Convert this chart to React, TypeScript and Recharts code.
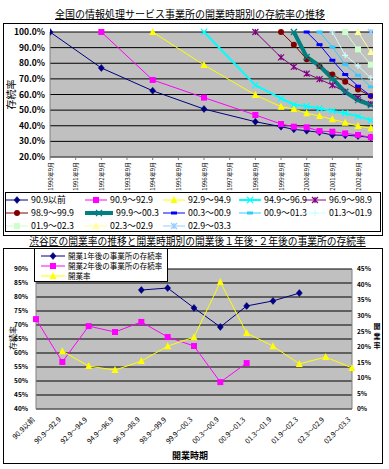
import React from 'react';
import { LineChart, ComposedChart, Line, XAxis, YAxis, CartesianGrid, Label } from 'recharts';

const FONT = '"Noto Sans CJK JP", "Noto Sans", sans-serif';

// ---------- data: top chart ----------
const periodNames = ['90.9以前', '90.9～92.9', '92.9～94.9', '94.9～96.9', '96.9～98.9', '98.9～99.9', '99.9～00.3', '00.3～00.9', '00.9～01.3', '01.3～01.9', '01.9～02.3', '02.3～02.9', '02.9～03.3'];
// survey dates, months after 1990.9
const surveyMonths = [0, 24, 48, 72, 96, 108, 114, 120, 126, 132, 138, 144, 150];
const yearTicks = [0, 12, 24, 36, 48, 60, 72, 84, 96, 108, 120, 132, 144];
const yearLabels = ['1990年9月', '1991年9月', '1992年9月', '1993年9月', '1994年9月', '1995年9月', '1996年9月', '1997年9月', '1998年9月', '1999年9月', '2000年9月', '2001年9月', '2002年9月'];
const pctTicksTop = [20, 30, 40, 50, 60, 70, 80, 90, 100];

const surv0 = [100, 77.0, 62.4, 50.7, 42.6, 39.4, 37.7, 36.8, 35.8, 34.1, 33.9, 33.4, 32.5];
const surv1 = [null, 100, 69.3, 58.0, 46.9, 41.1, 39.4, 39.0, 36.6, 36.2, 35.1, 34.1, 32.6];
const surv2 = [null, null, 100, 78.9, 59.7, 52.2, 50.7, 48.0, 46.2, 44.1, 42.0, 39.8, 38.4];
const surv3 = [null, null, null, 100, 66.0, 57.5, 53.5, 52.5, 51.0, 49.5, 48.0, 46.0, 43.5];
const surv4 = [null, null, null, null, 100, 83.8, 77.7, 73.4, 69.8, 66.0, 61.7, 57.9, 54.0];
const surv5 = [null, null, null, null, null, 100, 91.9, 82.6, 78.3, 72.8, 68.1, 63.2, 59.1];
const surv6 = [null, null, null, null, null, null, 100, 84.0, 78.3, 70.2, 61.7, 56.4, 53.2];
const surv7 = [null, null, null, null, null, null, null, 100, 91.9, 81.9, 72.8, 65.3, 59.1];
const surv8 = [null, null, null, null, null, null, null, null, 100, 90.4, 79.1, 72.3, 64.9];
const surv9 = [null, null, null, null, null, null, null, null, null, 100, 85.1, 78.3, 70.6];
const surv10 = [null, null, null, null, null, null, null, null, null, null, 100, 88.9, 79.1];
const surv11 = [null, null, null, null, null, null, null, null, null, null, null, 100, 87.2];
const surv12 = [null, null, null, null, null, null, null, null, null, null, null, null, 100];
const survSeries = [surv0, surv1, surv2, surv3, surv4, surv5, surv6, surv7, surv8, surv9, surv10, surv11, surv12];

// ---------- data: bottom chart ----------
const oneYearSurvival = [null, null, null, null, 82.5, 83.2, 76.1, 69.3, 76.8, 78.6, 81.4, null, null];
const twoYearSurvival = [72.1, 56.8, 69.6, 67.5, 71.1, 65.7, 62.5, 49.6, 56.4, null, null, null, null];
const openingRate = [null, 18.6, 13.8, 12.5, 15.4, 20.2, 23.1, 40.8, 24.4, 20.2, 14.5, 16.7, 13.2];
const leftTicks = [40, 45, 50, 55, 60, 65, 70, 75, 80, 85, 90];
const rightTicks = [0, 5, 10, 15, 20, 25, 30, 35, 40, 45];
const bottomSeriesNames = ['開業1年後の事業所の存続率', '開業2年後の事業所の存続率', '開業率'];

// ---------- styles ----------
const topStyles = [
  { color: '#000080', shape: 'diamond', width: 1 },
  { color: '#FF00FF', shape: 'square', width: 1 },
  { color: '#FFFF00', shape: 'triangle', width: 1 },
  { color: '#00FFFF', shape: 'x', width: 2 },
  { color: '#800080', shape: 'star', width: 1 },
  { color: '#800000', shape: 'circle', width: 1 },
  { color: '#008080', shape: 'x', width: 4 },
  { color: '#0000FF', shape: 'dash', width: 1 },
  { color: '#33CCFF', shape: 'dash', width: 1 },
  { color: '#CCFFFF', shape: 'plus', width: 1 },
  { color: '#CCFFCC', shape: 'square', width: 1 },
  { color: '#FFFF99', shape: 'triangle', width: 1 },
  { color: '#99CCFF', shape: 'star', width: 1 },
];
const bottomStyles = [
  { color: '#000080', shape: 'diamond', width: 1 },
  { color: '#FF00FF', shape: 'square', width: 1 },
  { color: '#FFFF00', shape: 'triangle', width: 1 },
];

const topRows = surveyMonths.map((t, i) => {
  const row: any = { t };
  survSeries.forEach((s, j) => { row['s' + j] = s[i]; });
  return row;
});
const bottomRows = periodNames.map((p, i) => ({
  period: p,
  oneYear: oneYearSurvival[i],
  twoYear: twoYearSurvival[i],
  openRate: openingRate[i],
}));

function Marker({ shape, cx, cy, color, s = 3 }: any) {
  switch (shape) {
    case 'diamond':
      return <polygon points={`${cx},${cy - s - 0.5} ${cx + s},${cy} ${cx},${cy + s + 0.5} ${cx - s},${cy}`} fill={color} stroke={color} strokeWidth={0.5} />;
    case 'square':
      return <rect x={cx - s} y={cy - s} width={2 * s} height={2 * s} fill={color} />;
    case 'triangle':
      return <polygon points={`${cx},${cy - s - 1} ${cx + s + 0.5},${cy + s} ${cx - s - 0.5},${cy + s}`} fill={color} />;
    case 'x':
      return <path d={`M${cx - s},${cy - s}L${cx + s},${cy + s}M${cx - s},${cy + s}L${cx + s},${cy - s}`} stroke={color} strokeWidth={1.3} fill="none" />;
    case 'star':
      return <path d={`M${cx - s},${cy - s}L${cx + s},${cy + s}M${cx - s},${cy + s}L${cx + s},${cy - s}M${cx},${cy - s}L${cx},${cy + s}`} stroke={color} strokeWidth={1.2} fill="none" />;
    case 'circle':
      return <circle cx={cx} cy={cy} r={s} fill={color} />;
    case 'dash':
      return <rect x={cx - 3} y={cy - 1.5} width={6} height={3} fill={color} />;
    case 'plus':
      return <path d={`M${cx - s},${cy}L${cx + s},${cy}M${cx},${cy - s}L${cx},${cy + s}`} stroke={color} strokeWidth={1.2} fill="none" />;
    default:
      return null;
  }
}

const makeDot = (shape: string, color: string) => (p: any) => {
  const key = 'd' + p.index;
  if (p.cx == null || p.cy == null || p.value == null || isNaN(p.cy)) return <g key={key} />;
  return (
    <g key={key}>
      <Marker shape={shape} cx={p.cx} cy={p.cy} color={color} />
    </g>
  );
};

function LegendIcon({ style, w = 24 }: any) {
  return (
    <svg width={w} height={10} style={{ display: 'block', flex: 'none' }}>
      <line x1={0} y1={5} x2={w} y2={5} stroke={style.color} strokeWidth={style.width} />
      <Marker shape={style.shape} cx={w / 2} cy={5} color={style.color} />
    </svg>
  );
}

const YearTick = (props: any) => {
  const { x, y, payload } = props;
  const label = yearLabels[Math.round(payload.value / 12)];
  const yy = y;
  return (
    <text x={x} y={yy} transform={`rotate(-90 ${x} ${yy})`} textAnchor="end" dominantBaseline="central" fontSize={6} fontFamily={FONT} fill="#000">
      {label}
    </text>
  );
};

const PeriodTick = (props: any) => {
  const { x, y, payload } = props;
  const xx = x - 3;
  const yy = y + 4;
  return (
    <text x={xx} y={yy} transform={`rotate(-45 ${xx} ${yy})`} textAnchor="end" dominantBaseline="central" fontSize={7} fontFamily={FONT} fill="#000">
      {payload.value}
    </text>
  );
};

const legendCols = [5, 84, 162, 238, 303];

export default function App() {
  return (
    <div style={{ position: 'absolute', left: 0, top: 0, width: 389, height: 469, background: '#fff', fontFamily: FONT, overflow: 'hidden' }}>
      {/* top title */}
      <div style={{ position: 'absolute', left: 0, top: 7, width: 380, textAlign: 'center', fontSize: 10, lineHeight: '14px', textDecoration: 'underline', whiteSpace: 'nowrap', color: '#000' }}>
        全国の情報処理サービス事業所の開業時期別の存続率の推移
      </div>
      <div style={{ position: 'absolute', left: 3, top: 23, width: 380, height: 213, border: '1px solid #000', boxSizing: 'border-box' }} />
      <div style={{ position: 'absolute', left: 0, top: 0 }}>
        <LineChart width={389} height={200} data={topRows} margin={{ top: 32, right: 16, bottom: 0, left: 0 }}>
          <CartesianGrid vertical={false} stroke="#000" fill="#C0C0C0" fillOpacity={1} />
          <XAxis type="number" dataKey="t" domain={[0, 151]} ticks={yearTicks} interval={0} height={43} tick={(p: any) => <YearTick {...p} />} tickSize={3} tickLine={{ stroke: '#808080' }} axisLine={{ stroke: '#808080' }} allowDataOverflow />
          <YAxis domain={[20, 100]} ticks={pctTicksTop} interval={0} width={50} tickSize={3} tickLine={false} axisLine={{ stroke: '#808080' }} tickFormatter={(v: number) => v.toFixed(1) + '%'} tick={{ fontSize: 8.5, fill: '#000', fontWeight: 'bold', fontFamily: FONT }}>
            <Label content={(p: any) => {
              const vb = p.viewBox;
              const cx = 10;
              const cy = vb.y + vb.height / 2;
              return <text x={cx} y={cy} transform={`rotate(-90 ${cx} ${cy})`} textAnchor="middle" dominantBaseline="central" fontSize={10} fontFamily={FONT} fill="#000">存続率</text>;
            }} />
          </YAxis>
          {survSeries.map((_, j) => (
            <Line key={j} type="linear" dataKey={'s' + j} name={periodNames[j]} stroke={topStyles[j].color} strokeWidth={topStyles[j].width} dot={makeDot(topStyles[j].shape, topStyles[j].color)} activeDot={false} isAnimationActive={false} />
          ))}
        </LineChart>
      </div>
      {/* top legend */}
      <div style={{ position: 'absolute', left: 5, top: 192, width: 376, height: 40, border: '1px solid #000', boxSizing: 'border-box', background: '#fff' }}>
        {periodNames.map((name, j) => {
          const col = j % 5;
          const row = Math.floor(j / 5);
          const thick = topStyles[j].width >= 4;
          return (
            <div key={j} style={{ position: 'absolute', left: legendCols[col] - 5, top: 1 + row * 13, height: 12, display: 'flex', alignItems: 'center', whiteSpace: 'nowrap', fontSize: 8.8, lineHeight: '12px', color: '#000' }}>
              <LegendIcon style={topStyles[j]} w={thick ? 28 : 22} />
              <span style={{ marginLeft: 3 }}>{name}</span>
            </div>
          );
        })}
      </div>

      {/* bottom title */}
      <div style={{ position: 'absolute', left: 0, top: 234, width: 395, textAlign: 'center', fontSize: 9.75, lineHeight: '14px', textDecoration: 'underline', whiteSpace: 'nowrap', color: '#000' }}>
        渋谷区の開業率の推移と開業時期別の開業後１年後･２年後の事業所の存続率
      </div>
      <div style={{ position: 'absolute', left: 3, top: 248, width: 380, height: 216, border: '1px solid #000', boxSizing: 'border-box' }} />
      <div style={{ position: 'absolute', left: 0, top: 240 }}>
        <ComposedChart width={389} height={229} data={bottomRows} margin={{ top: 29, right: 0, bottom: 0, left: 0 }}>
          <CartesianGrid yAxisId="left" vertical={false} stroke="#000" fill="#C0C0C0" fillOpacity={1} />
          <XAxis dataKey="period" interval={0} height={60} tick={(p: any) => <PeriodTick {...p} />} tickLine={false} tickSize={3} axisLine={{ stroke: '#808080' }}>
            <Label content={(p: any) => {
              const vb = p.viewBox;
              return <text x={vb.x + vb.width / 2 - 4} y={vb.y + 46} textAnchor="middle" dominantBaseline="central" fontSize={9} fontWeight="bold" fontFamily={FONT} fill="#000">開業時期</text>;
            }} />
          </XAxis>
          <YAxis yAxisId="left" domain={[40, 90]} ticks={leftTicks} interval={0} width={36} tickSize={3} tickMargin={5} tickLine={false} axisLine={{ stroke: '#808080' }} tickFormatter={(v: number) => v + '%'} tick={{ fontSize: 6.5, fill: '#000', fontWeight: 'bold', fontFamily: FONT }}>
            <Label content={() => {
              const cx = 12;
              const cy = 98;
              return <text x={cx} y={cy} transform={`rotate(-90 ${cx} ${cy})`} textAnchor="middle" dominantBaseline="central" fontSize={8} fontFamily={FONT} fill="#000">存続率</text>;
            }} />
          </YAxis>
          <YAxis yAxisId="right" orientation="right" domain={[0, 45]} ticks={rightTicks} interval={0} width={37} tickSize={3} tickMargin={2} tickLine={false} axisLine={{ stroke: '#808080' }} tickFormatter={(v: number) => v + '%'} tick={{ fontSize: 6.5, fill: '#000', fontWeight: 'bold', fontFamily: FONT }}>
            <Label content={() => {
              const x = 377;
              return (
                <text x={x} textAnchor="middle" fontSize={7} fontWeight="bold" fontFamily={FONT} fill="#000">
                  <tspan x={x} y={89}>開</tspan>
                  <tspan x={x} y={98.5}>業</tspan>
                  <tspan x={x} y={108}>率</tspan>
                </text>
              );
            }} />
          </YAxis>
          <Line yAxisId="left" type="linear" dataKey="oneYear" name={bottomSeriesNames[0]} stroke={bottomStyles[0].color} strokeWidth={1} dot={makeDot(bottomStyles[0].shape, bottomStyles[0].color)} activeDot={false} isAnimationActive={false} />
          <Line yAxisId="left" type="linear" dataKey="twoYear" name={bottomSeriesNames[1]} stroke={bottomStyles[1].color} strokeWidth={1} dot={makeDot(bottomStyles[1].shape, bottomStyles[1].color)} activeDot={false} isAnimationActive={false} />
          <Line yAxisId="right" type="linear" dataKey="openRate" name={bottomSeriesNames[2]} stroke={bottomStyles[2].color} strokeWidth={1} dot={makeDot(bottomStyles[2].shape, bottomStyles[2].color)} activeDot={false} isAnimationActive={false} />
        </ComposedChart>
      </div>
      {/* bottom legend */}
      <div style={{ position: 'absolute', left: 34, top: 248, width: 134, height: 34, border: '1px solid #000', boxSizing: 'border-box', background: '#fff' }}>
        {bottomSeriesNames.map((name, j) => (
          <div key={j} style={{ position: 'absolute', left: 6, top: 2 + j * 10, height: 10, display: 'flex', alignItems: 'center', whiteSpace: 'nowrap', fontSize: 7.5, lineHeight: '10px', color: '#000' }}>
            <LegendIcon style={bottomStyles[j]} w={24} />
            <span style={{ marginLeft: 3 }}>{name}</span>
          </div>
        ))}
      </div>
    </div>
  );
}
